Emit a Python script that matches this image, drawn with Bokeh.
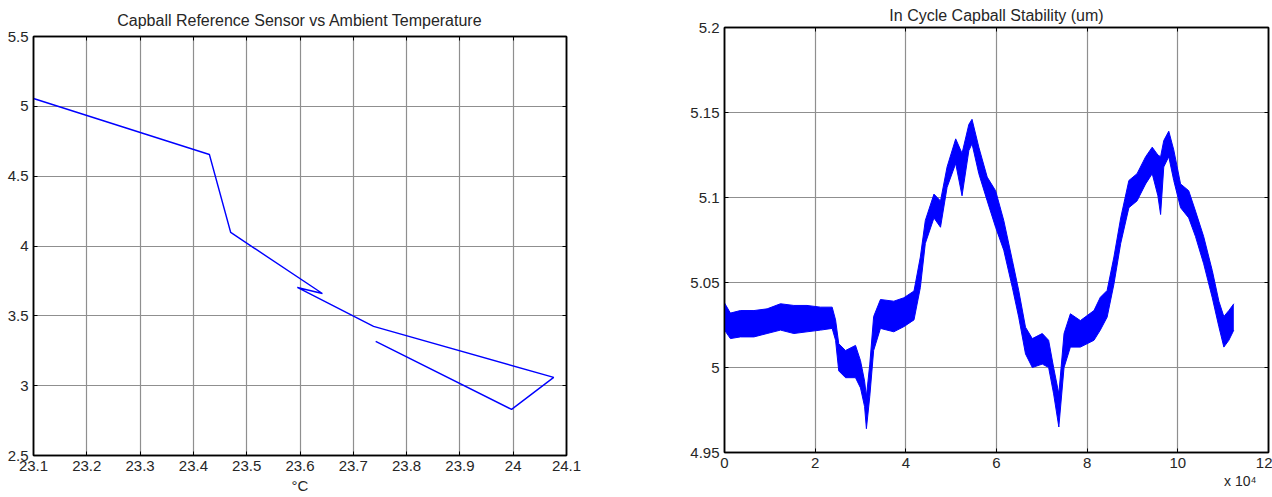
from bokeh.plotting import figure
from bokeh.layouts import row, column
from bokeh.models import Range1d, FixedTicker, LinearAxis, Title
from bokeh.embed import file_html
from bokeh.resources import INLINE

# ---- Left chart data: Capball reference sensor vs ambient temperature ----
temp_c = [23.100, 23.430, 23.470, 23.642, 23.595, 23.738, 24.076, 23.997, 23.742]
sensor = [5.056, 4.655, 4.097, 3.660, 3.703, 3.424, 3.059, 2.830, 3.317]
left_xticks = [23.1, 23.2, 23.3, 23.4, 23.5, 23.6, 23.7, 23.8, 23.9, 24.0, 24.1]
left_xlabels = ["23.1", "23.2", "23.3", "23.4", "23.5", "23.6", "23.7", "23.8", "23.9", "24", "24.1"]
left_yticks = [2.5, 3.0, 3.5, 4.0, 4.5, 5.0, 5.5]
left_ylabels = ["2.5", "3", "3.5", "4", "4.5", "5", "5.5"]

# ---- Right chart data: in-cycle stability band (sample index in 1e4, um) ----
samples_e4 = [0.00, 0.13, 0.35, 0.65, 0.94, 1.235, 1.53, 1.82, 2.12, 2.375,
              2.45, 2.52, 2.67, 2.89, 3.00, 3.09, 3.13, 3.205, 3.29, 3.44,
              3.735, 3.955, 4.18, 4.32, 4.43, 4.62, 4.765, 4.91, 5.10, 5.24,
              5.39, 5.46, 5.61, 5.795, 5.98, 6.16, 6.35, 6.49, 6.64, 6.79,
              7.01, 7.15, 7.26, 7.375, 7.49, 7.63, 7.85, 8.15, 8.29, 8.44,
              8.59, 8.74, 8.92, 9.10, 9.29, 9.435, 9.56, 9.62, 9.69, 9.80,
              9.91, 10.06, 10.24, 10.39, 10.57, 10.76, 10.905, 11.015, 11.125, 11.235]
stab_low = [5.022, 5.017, 5.018, 5.018, 5.020, 5.022, 5.020, 5.021, 5.022, 5.023,
            5.016, 4.998, 4.994, 4.994, 4.988, 4.977, 4.964, 4.983, 5.010, 5.023,
            5.021, 5.024, 5.028, 5.047, 5.073, 5.088, 5.0825, 5.106, 5.120, 5.101,
            5.1276, 5.1316, 5.114, 5.098, 5.0825, 5.069, 5.047, 5.0296, 5.008, 5.000,
            5.002, 5.000, 4.9845, 4.965, 5.000, 5.012, 5.012, 5.016, 5.022, 5.0296,
            5.049, 5.073, 5.094, 5.098, 5.108, 5.114, 5.101, 5.090, 5.118, 5.124,
            5.110, 5.094, 5.088, 5.077, 5.061, 5.041, 5.024, 5.012, 5.016, 5.022]
stab_high = [5.038, 5.032, 5.0335, 5.0335, 5.0345, 5.0375, 5.0365, 5.0365, 5.0355, 5.0355,
             5.028, 5.014, 5.010, 5.013, 5.004, 4.992, 4.983, 5.002, 5.030, 5.040,
             5.039, 5.041, 5.045, 5.065, 5.0865, 5.102, 5.098, 5.118, 5.1345, 5.126,
             5.143, 5.146, 5.1296, 5.112, 5.104, 5.0865, 5.063, 5.0453, 5.0237, 5.017,
             5.020, 5.016, 5.000, 4.9845, 5.020, 5.0316, 5.0276, 5.0335, 5.0413, 5.0453,
             5.065, 5.088, 5.110, 5.114, 5.124, 5.1296, 5.125, 5.124, 5.1335, 5.139,
             5.128, 5.108, 5.104, 5.092, 5.077, 5.057, 5.039, 5.030, 5.0335, 5.0375]
right_xticks = [0, 2, 4, 6, 8, 10, 12]
right_xlabels = ["0", "2", "4", "6", "8", "10", "12"]
right_yticks = [4.95, 5.0, 5.05, 5.1, 5.15, 5.2]
right_ylabels = ["4.95", "5", "5.05", "5.1", "5.15", "5.2"]

FONT = "Liberation Sans"
TXT = "#262626"
GRID = "#8f8f8f"
BLUE = "#0000ff"


def base_axis_style(ax):
    ax.axis_line_color = "black"
    ax.axis_line_width = 1.5
    ax.major_tick_in = 4
    ax.major_tick_out = 0
    ax.major_tick_line_color = "black"
    ax.minor_tick_line_color = None


def style(p, xticks, xlabels, yticks, ylabels, title_standoff):
    p.outline_line_color = "black"
    p.outline_line_width = 1.5
    p.title.text_font = FONT
    p.title.text_font_size = "16px"
    p.title.text_font_style = "normal"
    p.title.text_color = TXT
    p.title.align = "center"
    p.title.standoff = title_standoff
    p.xgrid.ticker = FixedTicker(ticks=xticks)
    p.ygrid.ticker = FixedTicker(ticks=yticks)
    for g in (p.xgrid[0], p.ygrid[0]):
        g.grid_line_color = GRID
        g.grid_line_width = 1.2
    xa = p.below[0]
    ya = p.left[0]
    xa.ticker = FixedTicker(ticks=xticks)
    xa.major_label_overrides = {float(t): l for t, l in zip(xticks, xlabels)}
    ya.ticker = FixedTicker(ticks=yticks)
    ya.major_label_overrides = {float(t): l for t, l in zip(yticks, ylabels)}
    for ax in (xa, ya):
        base_axis_style(ax)
        ax.major_label_text_font = FONT
        ax.major_label_text_font_size = "15px"
        ax.major_label_text_color = TXT
        ax.major_label_standoff = 5
        ax.axis_label_text_font = FONT
        ax.axis_label_text_font_size = "15px"
        ax.axis_label_text_font_style = "normal"
        ax.axis_label_text_color = TXT
    top = LinearAxis(ticker=FixedTicker(ticks=xticks))
    right = LinearAxis(ticker=FixedTicker(ticks=yticks))
    for ax in (top, right):
        base_axis_style(ax)
        ax.major_label_text_font_size = "0px"
        ax.major_label_text_color = None
        ax.major_label_standoff = 0
    p.add_layout(top, "above")
    p.add_layout(right, "right")
    return xa, ya


# ---- Left figure ----
p1 = figure(width=636, height=497, output_backend="svg", toolbar_location=None,
            x_range=Range1d(23.1, 24.1), y_range=Range1d(2.5, 5.5),
            title="Capball Reference Sensor vs Ambient Temperature",
            min_border_left=33, min_border_right=70, min_border_top=36, min_border_bottom=42)
p1.line(temp_c, sensor, line_color=BLUE, line_width=1.4)
xa1, ya1 = style(p1, left_xticks, left_xlabels, left_yticks, left_ylabels, 15)
xa1.axis_label = "°C"
xa1.axis_label_standoff = 3

# ---- Right figure ----
p2 = figure(width=636, height=497, output_backend="svg", toolbar_location=None,
            x_range=Range1d(0, 12), y_range=Range1d(4.95, 5.2),
            title="In Cycle Capball Stability (um)",
            min_border_left=88, min_border_right=4, min_border_top=27, min_border_bottom=45)
p2.varea(x=samples_e4, y1=stab_low, y2=stab_high, fill_color=BLUE)
p2.line(samples_e4, stab_high, line_color=BLUE, line_width=1)
p2.line(samples_e4, stab_low, line_color=BLUE, line_width=1)
style(p2, right_xticks, right_xlabels, right_yticks, right_ylabels, 8)
exp_title = Title(text="x 10\u2074", align="right", text_font=FONT, text_font_size="14px",
                  text_font_style="normal", text_color=TXT, standoff=0, offset=12)
p2.add_layout(exp_title, "below")

layout = row(column(p1), column(p2))
open("out.html", "w").write(file_html(layout, INLINE))
